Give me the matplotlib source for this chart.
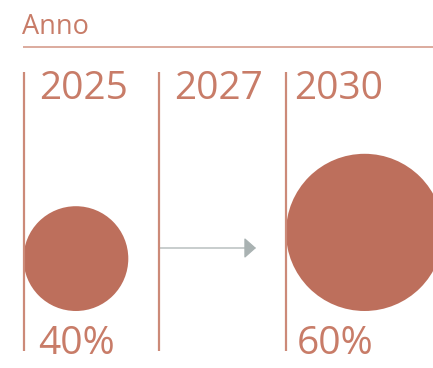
import matplotlib
matplotlib.use('Agg')

from matplotlib import pyplot as plt
from matplotlib.patches import Circle, FancyArrowPatch

plt.rcParams['font.family'] = ['Open Sans', 'DejaVu Sans']

# Dati
titolo = "Anno"
anni = ["2025", "2027", "2030"]
quote = [40, None, 60]          # percentuale per anno (None = solo transizione)

# Colori
rosso = "#bd6f5c"
testo = "#c87c68"
linea = "#cc8a78"
grigio = "#a9b2b2"

W, H = 433, 368
fig = plt.figure(figsize=(W / 100, H / 100), dpi=100)
ax = fig.add_axes([0, 0, 1, 1])
ax.set_xlim(0, W)
ax.set_ylim(H, 0)
ax.set_aspect('equal')
ax.axis('off')

# intestazione
ax.text(22, 34, titolo, fontsize=19.5, color=testo, va='baseline', ha='left')
ax.plot([23, W], [47, 47], color="#d9a596", lw=1.3, solid_capstyle='butt')

# colonne
col_x = [23.5, 159, 286]
txt_dx = [16, 15, 8]
pct_dx = [15, None, 11]
base_circ = 311      # fondo comune dei cerchi
scala = 1.31         # raggio in px per punto percentuale

for i, anno in enumerate(anni):
    x = col_x[i]
    ax.plot([x, x], [72, 351], color=linea, lw=1.6, solid_capstyle='butt')
    ax.text(x + txt_dx[i], 99, anno, fontsize=28, color=testo,
            va='baseline', ha='left')
    if quote[i] is not None:
        r = quote[i] * scala
        ax.add_patch(Circle((x + r, base_circ - r), r, color=rosso, lw=0))
        ax.text(x + pct_dx[i], 353.5, f"{quote[i]}%", fontsize=28,
                color=testo, va='baseline', ha='left')

# freccia di transizione
ax.add_patch(FancyArrowPatch((159.5, 248), (256, 248),
                             arrowstyle='-|>,head_length=0.52,head_width=0.46',
                             mutation_scale=14, color=grigio, lw=0.9,
                             shrinkA=0, shrinkB=0))

fig.savefig("out.png", dpi=100)
plt.close(fig)
